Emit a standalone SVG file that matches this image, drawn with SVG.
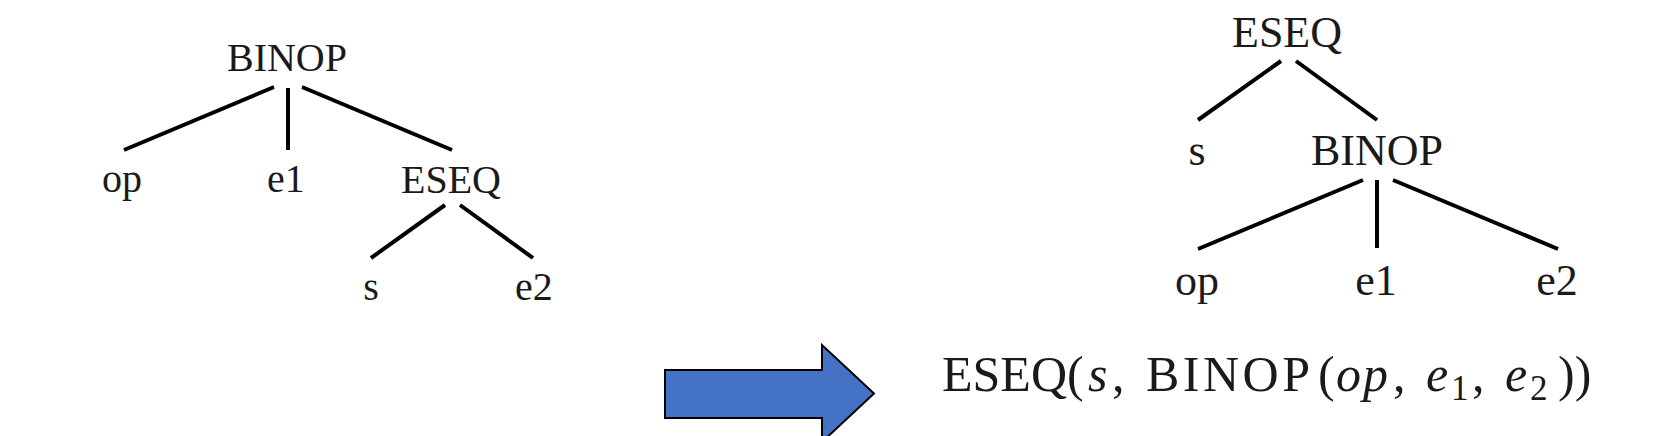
<svg xmlns="http://www.w3.org/2000/svg" width="1662" height="436" viewBox="0 0 1662 436">
<style>
.lbl{font-family:"Liberation Serif","Times New Roman",serif;fill:#1a1a1a;text-anchor:middle}
.l{font-size:40px}
.r{font-size:44px}
.edge{stroke:#000;stroke-width:4;stroke-linecap:butt;fill:none}
.f{font-family:"Liberation Serif","Times New Roman",serif;fill:#1a1a1a;font-size:50px}
.it{font-style:italic}
.sub{font-size:35px}
</style>
<rect width="1662" height="436" fill="#fff"/>
<g id="connectors">
<line class="edge" x1="274" y1="87" x2="124" y2="150"/>
<line class="edge" x1="288" y1="88" x2="288" y2="150"/>
<line class="edge" x1="302" y1="87" x2="452" y2="150"/>
<line class="edge" x1="445" y1="205" x2="371" y2="258"/>
<line class="edge" x1="460" y1="205" x2="533" y2="258"/>
<line class="edge" x1="1281" y1="61" x2="1198" y2="120"/>
<line class="edge" x1="1296" y1="61" x2="1377" y2="120"/>
<line class="edge" x1="1363" y1="180" x2="1198" y2="249"/>
<line class="edge" x1="1377" y1="180" x2="1377" y2="248"/>
<line class="edge" x1="1393" y1="180" x2="1558" y2="249"/>
</g>
<g id="l-binop"><text class="lbl l" x="287" y="71">BINOP</text></g>
<g id="l-op"><text class="lbl l" x="122" y="192">op</text></g>
<g id="l-e1"><text class="lbl l" x="286" y="192">e1</text></g>
<g id="l-eseq"><text class="lbl l" x="451" y="193">ESEQ</text></g>
<g id="l-s"><text class="lbl l" x="371" y="300">s</text></g>
<g id="l-e2"><text class="lbl l" x="534" y="300">e2</text></g>
<g id="r-eseq"><text class="lbl r" x="1287" y="47">ESEQ</text></g>
<g id="r-s"><text class="lbl r" x="1197" y="165">s</text></g>
<g id="r-binop"><text class="lbl r" x="1377" y="165">BINOP</text></g>
<g id="r-op"><text class="lbl r" x="1197" y="295">op</text></g>
<g id="r-e1"><text class="lbl r" x="1376" y="295">e1</text></g>
<g id="r-e2"><text class="lbl r" x="1557" y="295">e2</text></g>
<g id="arrow">
<polygon points="665,370 822,370 822,345 874,393.5 822,442 822,418 665,418" fill="#4472C4" stroke="#000" stroke-width="2" stroke-linejoin="miter"/>
</g>
<g id="formula">
<text class="f" y="391"><tspan x="942">ESEQ</tspan><tspan x="1067">(</tspan><tspan class="it" x="1088">s</tspan><tspan x="1112">,</tspan><tspan x="1146" letter-spacing="3.5">BINOP</tspan><tspan x="1318">(</tspan><tspan class="it" x="1336" letter-spacing="2">op</tspan><tspan x="1393">,</tspan><tspan class="it" x="1426">e</tspan><tspan class="sub" x="1451" y="400">1</tspan><tspan x="1472" y="391">,</tspan><tspan class="it" x="1505">e</tspan><tspan class="sub" x="1530" y="400">2</tspan><tspan x="1558" y="391">))</tspan></text>
</g>
</svg>
